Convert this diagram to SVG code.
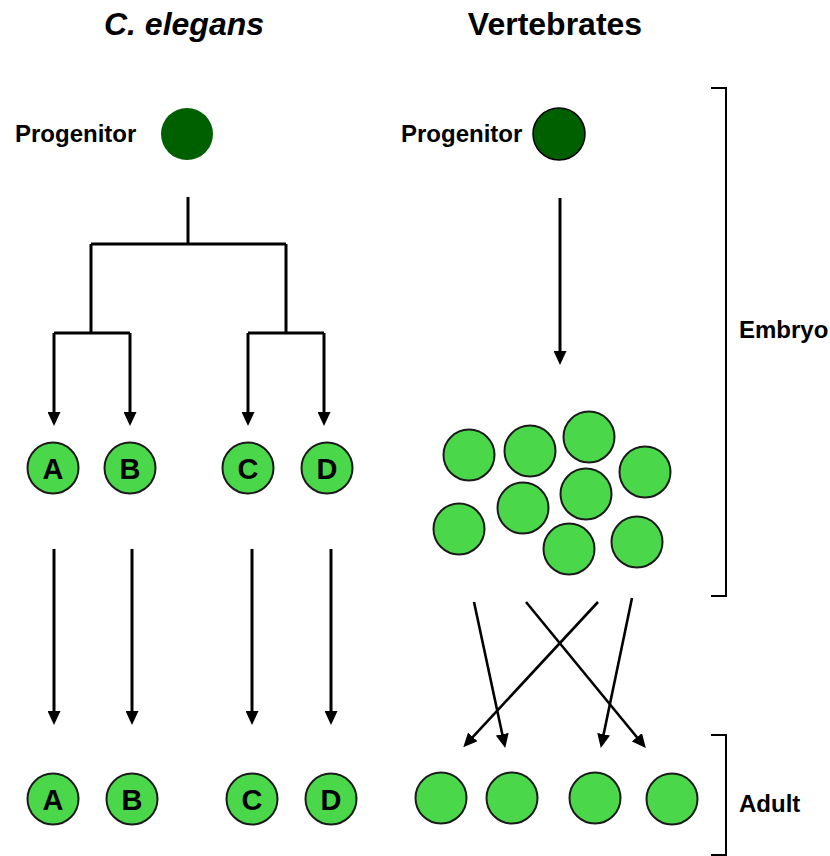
<svg xmlns="http://www.w3.org/2000/svg" width="830" height="856" viewBox="0 0 830 856">
<style>
.title{font-family:"Liberation Sans",Arial,sans-serif;font-weight:bold;font-size:32px;text-anchor:middle;fill:#000}
.lbl{font-family:"Liberation Sans",Arial,sans-serif;font-weight:bold;font-size:24px;fill:#000}
.let{font-family:"Liberation Sans",Arial,sans-serif;font-weight:bold;font-size:29px;text-anchor:middle;fill:#000}
.cell{fill:#4ad84a;stroke:#1a1a1a;stroke-width:2}
.prog{fill:#006000}
.ln{fill:none;stroke:#000;stroke-width:3}
.ln2{fill:none;stroke:#000;stroke-width:2.6}
.br{fill:none;stroke:#000;stroke-width:2}
</style>
<defs>
<marker id="ah" markerUnits="userSpaceOnUse" markerWidth="14" markerHeight="13" refX="10" refY="6.5" orient="auto">
<path d="M0,0 L14,6.5 L0,13 z" fill="#000"/>
</marker>
</defs>

<text class="title" x="184" y="35" font-style="italic">C. elegans</text>
<text class="title" x="555" y="35">Vertebrates</text>

<g id="prog-left">
<text class="lbl" x="15" y="142">Progenitor</text>
<circle class="prog" cx="187" cy="134" r="26"/>
</g>
<g id="prog-right">
<text class="lbl" x="401" y="142">Progenitor</text>
<circle class="prog" cx="559" cy="134" r="26" stroke="#000" stroke-width="1.5"/>
</g>

<g id="connectors">
<path class="ln" d="M188,197 V244 M91,244 H286 M91,244 V333 M286,244 V333 M54,333 H130 M248,333 H324"/>
<path class="ln" d="M54,333 V422" marker-end="url(#ah)"/>
<path class="ln" d="M130,333 V422" marker-end="url(#ah)"/>
<path class="ln" d="M248,333 V422" marker-end="url(#ah)"/>
<path class="ln" d="M324,333 V422" marker-end="url(#ah)"/>
<path class="ln" d="M54,549 V721" marker-end="url(#ah)"/>
<path class="ln" d="M132,549 V721" marker-end="url(#ah)"/>
<path class="ln" d="M252,549 V721" marker-end="url(#ah)"/>
<path class="ln" d="M331,549 V721" marker-end="url(#ah)"/>
<path class="ln" d="M560,198 V361" marker-end="url(#ah)"/>
<path class="ln2" d="M474,602 L504.4,744" marker-end="url(#ah)"/>
<path class="ln2" d="M526,602 L643.3,745" marker-end="url(#ah)"/>
<path class="ln2" d="M598,602 L466,744.3" marker-end="url(#ah)"/>
<path class="ln2" d="M632,598 L601.6,744" marker-end="url(#ah)"/>
</g>

<g id="cell-A1"><circle class="cell" cx="53" cy="468" r="25.5"/><text class="let" x="53" y="478.5">A</text></g>
<g id="cell-B1"><circle class="cell" cx="130" cy="468" r="25.5"/><text class="let" x="130" y="478.5">B</text></g>
<g id="cell-C1"><circle class="cell" cx="248" cy="468" r="25.5"/><text class="let" x="248" y="478.5">C</text></g>
<g id="cell-D1"><circle class="cell" cx="327" cy="468" r="25.5"/><text class="let" x="327" y="478.5">D</text></g>

<g id="cell-A2"><circle class="cell" cx="53" cy="799" r="25.5"/><text class="let" x="53" y="809.5">A</text></g>
<g id="cell-B2"><circle class="cell" cx="132" cy="799" r="25.5"/><text class="let" x="132" y="809.5">B</text></g>
<g id="cell-C2"><circle class="cell" cx="252" cy="799" r="25.5"/><text class="let" x="252" y="809.5">C</text></g>
<g id="cell-D2"><circle class="cell" cx="331" cy="799" r="25.5"/><text class="let" x="331" y="809.5">D</text></g>

<g id="embryo-cells">
<circle class="cell" cx="469" cy="455" r="25.5"/>
<circle class="cell" cx="530" cy="451" r="25.5"/>
<circle class="cell" cx="589" cy="437" r="25.5"/>
<circle class="cell" cx="645" cy="472" r="25.5"/>
<circle class="cell" cx="459" cy="529" r="25.5"/>
<circle class="cell" cx="523" cy="508" r="25.5"/>
<circle class="cell" cx="586" cy="494" r="25.5"/>
<circle class="cell" cx="569" cy="549" r="25.5"/>
<circle class="cell" cx="637" cy="542" r="25.5"/>
</g>

<g id="adult-cells">
<circle class="cell" cx="441" cy="798" r="25.5"/>
<circle class="cell" cx="512" cy="798" r="25.5"/>
<circle class="cell" cx="595" cy="798" r="25.5"/>
<circle class="cell" cx="672" cy="799" r="25.5"/>
</g>

<g id="embryo-bracket">
<path class="br" d="M711,88 H726 V596 H711"/>
<text class="lbl" x="739" y="338">Embryo</text>
</g>
<g id="adult-bracket">
<path class="br" d="M711,735 H726 V855 H711"/>
<text class="lbl" x="739" y="812">Adult</text>
</g>
</svg>
